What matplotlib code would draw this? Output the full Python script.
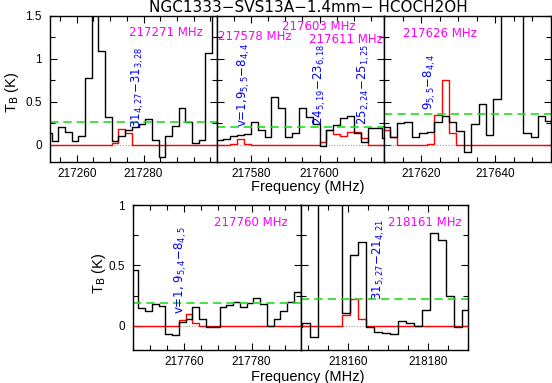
import matplotlib.pyplot as plt
from matplotlib.ticker import MultipleLocator, FixedLocator, FormatStrFormatter
import numpy as np

plt.rcParams['font.family'] = ['Liberation Sans', 'DejaVu Sans']
plt.rcParams['mathtext.fontset'] = 'dejavusans'

W, H = 552, 383

# spectra: 2 MHz channels, first channel centre + brightness (K)
f1_start = 217251.5
tb1 = [0.14, 0.05, 0.21, 0.15, 0.05, 0.10, 0.78, 2.0, 1.09, 0.32, 0.05, 0.10, 0.17,
       0.21, 0.24, 0.30, 0.06, -0.14, 0.10, 0.22, 0.43, 0.27, 0.02, 0.06, 1.07, 2.0, 2.0]
mod1 = {217271.5: 0.02, 217273.5: 0.19, 217275.5: 0.14}

f2_start = 217569.0
tb2 = [0.06, 0.06, 0.07, 0.10, 0.12, 0.13, 0.27, 0.17, 0.09, 0.56, 0.43, 0.09, 0.14,
       0.43, 0.32, 0.24, -0.01, 0.17, 0.23, 0.31, 0.33, 0.14, 0.03, 0.20, 0.20, 0.08, 0.08]
mod2 = {217575.0: 0.01, 217577.0: 0.07, 217579.0: 0.01, 217601.0: 0.03, 217603.0: 0.17,
        217605.0: 0.13, 217607.0: 0.105, 217609.0: 0.155, 217611.0: 0.155, 217613.0: 0.08}

f3_start = 217608.5
tb3 = [0.21, 0.21, 0.09, 0.25, 0.27, 0.09, 0.14, 0.15, 0.27, 0.33, 0.26, 0.16, -0.085,
       0.24, 0.48, 0.12, 0.53, 2.0, 2.0, 2.0, 0.14, 0.09, 0.33, 0.28, 0.28]
mod3 = {217610.5: 0.17, 217612.5: 0.09, 217622.5: 0.01, 217624.5: 0.35,
        217626.5: 0.755, 217628.5: 0.135}

f4_start = 217743.5
tb4 = [0.46, 0.46, 0.15, 0.12, 0.18, 0.165, -0.065, -0.075, 0.03, 0.06, 0.16, 0.06, -0.01,
       -0.012, 0.157, 0.17, 0.195, 0.16, 0.19, 0.23, 0.18, -0.005, 0.06, 0.12, 0.20, 0.28, 0.22]
mod4 = {217759.5: 0.047, 217761.5: 0.10, 217763.5: 0.02}

f5_start = 218145.5
tb5 = [-0.01, -0.01, 0.025, -0.09, 2.0, 2.0, 2.0, 0.107, 0.584, 0.69, -0.01, -0.05,
       -0.06, -0.07, 0.04, 0.02, 0.0, 0.13, 0.77, 0.71, 0.25, -0.01, 0.135, 0.135]
mod5 = {218159.5: 0.088, 218161.5: 0.226, 218163.5: 0.055}

rms3 = [0.27, 0.21, 0.36, 0.185, 0.226]
xlims = [(217252, 217302), (217570.2, 217618.7), (217610, 217655),
         (217745, 217794.5), (218148.05, 218190)]
xticks_major = [[217260, 217280], [217580, 217600], [217620, 217640],
                [217760, 217780], [218160, 218180]]

freq_labels = [[('217271 MHz', 0.695, 0.89)],
               [('217578 MHz', 0.228, 0.858), ('217603 MHz', 0.61, 0.927),
                ('217611 MHz', 0.772, 0.836)],
               [('217626 MHz', 0.335, 0.88)],
               [('217760 MHz', 0.70, 0.88)],
               [('218161 MHz', 0.741, 0.88)]]

trans_labels = [[(r'31$_{4,27}$$-$31$_{3,28}$', 217278.4, 0.20)],
                [(r'v=1,9$_{5,5}$$-$8$_{4,4}$', 217577.9, 0.21),
                 (r'24$_{5,19}$$-$23$_{6,18}$', 217600.1, 0.23),
                 (r'25$_{2,24}$$-$25$_{1,25}$', 217612.9, 0.23)],
                [(r'9$_{5,5}$$-$8$_{4,4}$', 217622.4, 0.41)],
                [(r'v=1, 9$_{5,4}$$-$8$_{4,5}$', 217759.0, 0.097)],
                [(r'31$_{5,27}$$-$21$_{4,21}$', 218167.5, 0.21)]]

panels = [(f1_start, tb1, mod1), (f2_start, tb2, mod2), (f3_start, tb3, mod3),
          (f4_start, tb4, mod4), (f5_start, tb5, mod5)]

# axes boxes in pixels: left, top, width, height
boxes = [(50, 16, 167, 146), (217, 16, 167, 146), (384, 16, 167, 146),
         (133.3, 205, 167.4, 145), (300.7, 205, 167.4, 145)]

fig = plt.figure(figsize=(W / 100, H / 100), dpi=100)

for i in range(5):
    l, t, w, h = boxes[i]
    ax = fig.add_axes([l / W, 1 - (t + h) / H, w / W, h / H])
    f0, tb, mod = panels[i]
    freq = f0 + 2.0 * np.arange(len(tb))
    model = np.array([mod.get(round(f, 1), 0.0) for f in freq])

    ax.plot(xlims[i], [0, 0], color='#999999', lw=0.8, ls=(0, (1, 1.5)))
    ax.step(freq, model, where='mid', color='red', lw=1.0)
    ax.step(freq, tb, where='mid', color='black', lw=1.0)
    ax.axhline(rms3[i], color='#22dd22', lw=1.2, ls=(0, (5, 3)))

    ax.set_xlim(xlims[i])
    if i < 3:
        ax.set_ylim(-0.2, 1.5)
    else:
        ax.set_ylim(-0.2, 1.0)
    ax.xaxis.set_major_locator(FixedLocator(xticks_major[i]))
    ax.xaxis.set_minor_locator(MultipleLocator(5))
    ax.yaxis.set_major_locator(MultipleLocator(0.5))
    ax.yaxis.set_minor_locator(MultipleLocator(0.25))
    ax.yaxis.set_major_formatter(FormatStrFormatter('%g'))
    ax.xaxis.set_major_formatter(FormatStrFormatter('%d'))
    ax.tick_params(which='both', direction='in', top=True, right=True,
                   labelsize=8.5, width=0.8)
    ax.tick_params(which='major', length=5, pad=4)
    ax.tick_params(which='minor', length=3.5)
    ax.tick_params(axis='y', pad=6)
    if i not in (0, 3):
        ax.tick_params(labelleft=False)
    for s in ax.spines.values():
        s.set_linewidth(1.0)

    for txt, x, y in freq_labels[i]:
        ax.text(x, y, txt, transform=ax.transAxes, color='magenta',
                fontsize=8.5, family='DejaVu Sans', ha='center', va='center')
    for txt, x, y in trans_labels[i]:
        ax.text(x, y, txt, color='blue', fontsize=8.5, family='DejaVu Sans',
                rotation=90, ha='center', va='bottom')

fig.text(308 / W, 1 - 7.5 / H, 'NGC1333\u2212SVS13A\u22121.4mm\u2212 HCOCH2OH',
         fontsize=11, family='DejaVu Sans', ha='center', va='center')
fig.text(308 / W, 1 - 187 / H, 'Frequency (MHz)', fontsize=10.5, ha='center', va='center')
fig.text(308 / W, 1 - 377 / H, 'Frequency (MHz)', fontsize=10.5, ha='center', va='center')
fig.text(12 / W, 1 - 92 / H, r'T$_\mathrm{B}$ (K)', fontsize=10.5, rotation=90,
         ha='center', va='center')
fig.text(99 / W, 1 - 273 / H, r'T$_\mathrm{B}$ (K)', fontsize=10.5, rotation=90,
         ha='center', va='center')

fig.savefig('out.png', dpi=100)
